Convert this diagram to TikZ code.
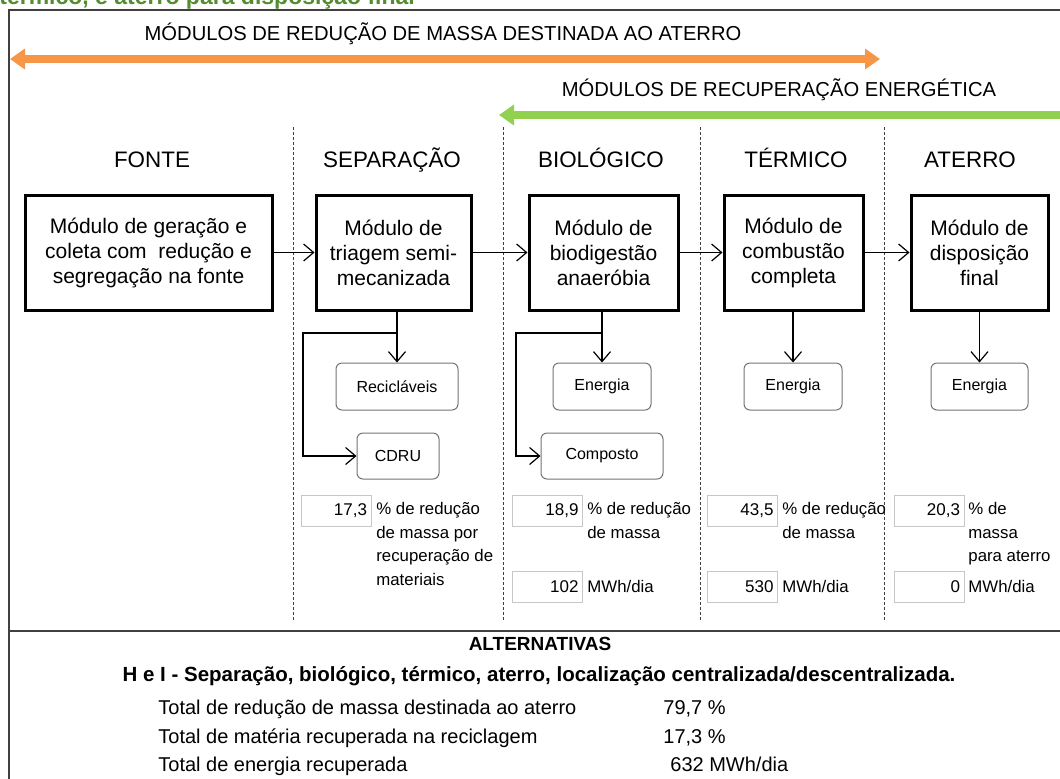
\documentclass[tikz,border=0pt]{standalone}
\usepackage{fontspec}
\setmainfont{Liberation Sans}
\usetikzlibrary{arrows.meta}
\definecolor{faixalaranja}{RGB}{247,150,70}
\definecolor{faixaverde}{RGB}{146,208,80}
\definecolor{titverde}{RGB}{84,140,48}
\definecolor{moldura}{RGB}{64,64,64}

\begin{document}
\begin{tikzpicture}[x=0.5pt,y=-0.5pt,
  modbox/.style={draw,rectangle,line width=1.5pt,minimum height=57.5pt,align=center,font=\fontsize{10.5}{12.5}\selectfont},
  outbox/.style={draw=black!55,rounded corners=3pt,line width=0.5pt,minimum height=23.5pt,font=\fontsize{8}{9.6}\selectfont},
  valbox/.style={draw=black!22,line width=0.5pt,minimum width=35pt,minimum height=15.5pt,text width=31pt,align=right,inner sep=2pt,font=\fontsize{8.5}{10}\selectfont},
  lbl/.style={inner sep=0pt,align=left,font=\fontsize{8.4}{11.75}\selectfont},
  band/.style={anchor=base,inner sep=0pt,font=\fontsize{10.1}{12}\selectfont},
  head/.style={anchor=base,inner sep=0pt,font=\fontsize{11.2}{13}\selectfont},
  flow/.style={-{Straight Barb[length=5pt,width=8.5pt]},line width=0.6pt},
  faixa/.style={line width=4pt,{Triangle[length=7.5pt,width=10pt]}-{Triangle[length=7.5pt,width=10pt]}},
  divisa/.style={draw=black!75,line width=0.5pt,dash pattern=on 1.5pt off 1pt},
  rowtxt/.style={anchor=base west,inner sep=0pt,font=\fontsize{10}{12}\selectfont}]
\useasboundingbox (0,0) rectangle (1060,778);

% caption cut at the top
\node[anchor=base west,inner sep=0pt,text=titverde,font=\bfseries\fontsize{11.5}{13}\selectfont] (tit) at (-1,4) {térmico, e aterro para disposição final};

% frame
\draw[moldura,line width=0.6pt] (1070,10) -- (9,10) -- (9,790);
\draw[moldura,line width=1pt] (9,631) -- (1070,631);

% bands
\coordinate (ra) at (10,59);
\coordinate (rb) at (880,59);
\draw[faixa,faixalaranja] (ra) -- (rb);
\node[band] (tred) at (443,40) {MÓDULOS DE REDUÇÃO DE MASSA DESTINADA AO ATERRO};
\coordinate (ea) at (499,115);
\coordinate (eb) at (1078,115);
\draw[faixa,faixaverde] (ea) -- (eb);
\node[band] (tene) at (779,96) {MÓDULOS DE RECUPERAÇÃO ENERGÉTICA};

% columns
\foreach \x in {293,503,700,884}
  \draw[divisa] (\x,127) -- (\x,622);
\node[head] (hfon) at (152,167) {FONTE};
\node[head] (hsep) at (392,167) {SEPARAÇÃO};
\node[head] (hbio) at (601,167) {BIOLÓGICO};
\node[head] (hter) at (796,167) {TÉRMICO};
\node[head] (hate) at (970,167) {ATERRO};

% modules
\node[modbox,minimum width=123.5pt] (fon) at (148.5,252.5) {Módulo de geração e\\coleta com\ \ redução e\\segregação na fonte};
\node[modbox,minimum width=77.5pt] (sep) at (393.5,252.5) {Módulo de\\triagem semi-\\mecanizada};
\node[modbox,minimum width=74.5pt] (bio) at (603.5,252.5) {Módulo de\\biodigestão\\anaeróbia};
\node[modbox,minimum width=69.5pt] (ter) at (793.5,252.5) {Módulo de\\combustão\\completa};
\node[modbox,minimum width=68.5pt] (ate) at (979.5,252.5) {Módulo de\\disposição\\final};

\draw[flow] (fon) -- (sep);
\draw[flow] (sep) -- (bio);
\draw[flow] (bio) -- (ter);
\draw[flow] (ter) -- (ate);

% products
\node[outbox,minimum width=61pt] (rec) at (397,386.5) {Recicláveis};
\node[outbox,minimum width=41pt,minimum height=23pt] (cdru) at (398,456) {CDRU};
\node[outbox,minimum width=49pt] (enb) at (602,386.5) {Energia};
\node[outbox,minimum width=61pt,minimum height=23pt] (com) at (602,456) {Composto};
\node[outbox,minimum width=49pt] (ent) at (793,386.5) {Energia};
\node[outbox,minimum width=48.5pt] (ena) at (979.5,386.5) {Energia};

\coordinate (sepk) at (303,333);
\coordinate (biok) at (516,333);
\draw[flow] (sep.south -| rec.north) -- (rec.north);
\draw[flow] (rec.north |- sepk) -- (sepk) |- (cdru.west);
\draw[flow] (bio.south -| enb.north) -- (enb.north);
\draw[flow] (enb.north |- biok) -- (biok) |- (com.west);
\draw[flow] (ter.south -| ent.north) -- (ent.north);
\draw[flow] (ate.south -| ena.north) -- (ena.north);

% values
\node[valbox] (v1) at (336,510.5) {17,3};
\node[lbl,anchor=north west] (l1) at (376,502) {\% de redução\\de massa por\\recuperação de\\materiais};
\node[valbox] (v2) at (547.5,510.5) {18,9};
\node[lbl,anchor=north west] (l2) at (587,502) {\% de redução\\de massa};
\node[valbox] (v3) at (547.5,586.5) {102};
\node[lbl,anchor=west] (l3) at (587,586.5) {MWh/dia};
\node[valbox] (v4) at (742.5,510.5) {43,5};
\node[lbl,anchor=north west] (l4) at (782,502) {\% de redução\\de massa};
\node[valbox] (v5) at (742.5,586.5) {530};
\node[lbl,anchor=west] (l5) at (782,586.5) {MWh/dia};
\node[valbox] (v6) at (929,510.5) {20,3};
\node[lbl,anchor=north west] (l6) at (968,502) {\% de\\massa\\para aterro};
\node[valbox] (v7) at (929,586.5) {0};
\node[lbl,anchor=west] (l7) at (968,586.5) {MWh/dia};

% alternatives
\node[inner sep=0pt,font=\bfseries\fontsize{9.5}{11}\selectfont] (alt) at (540,644) {ALTERNATIVAS};
\node[inner sep=0pt,font=\bfseries\fontsize{10.25}{12}\selectfont] (hei) at (539,676) {H e I - Separação, biológico, térmico, aterro, localização centralizada/descentralizada.};
\node[rowtxt] (t1) at (158,714) {Total de redução de massa destinada ao aterro};
\node[rowtxt] (n1) at (663,714) {79,7 \%};
\node[rowtxt] (t2) at (158,743) {Total de matéria recuperada na reciclagem};
\node[rowtxt] (n2) at (663,743) {17,3 \%};
\node[rowtxt] (t3) at (158,771) {Total de energia recuperada};
\node[rowtxt] (n3) at (670,771) {632 MWh/dia};
\end{tikzpicture}
\end{document}
